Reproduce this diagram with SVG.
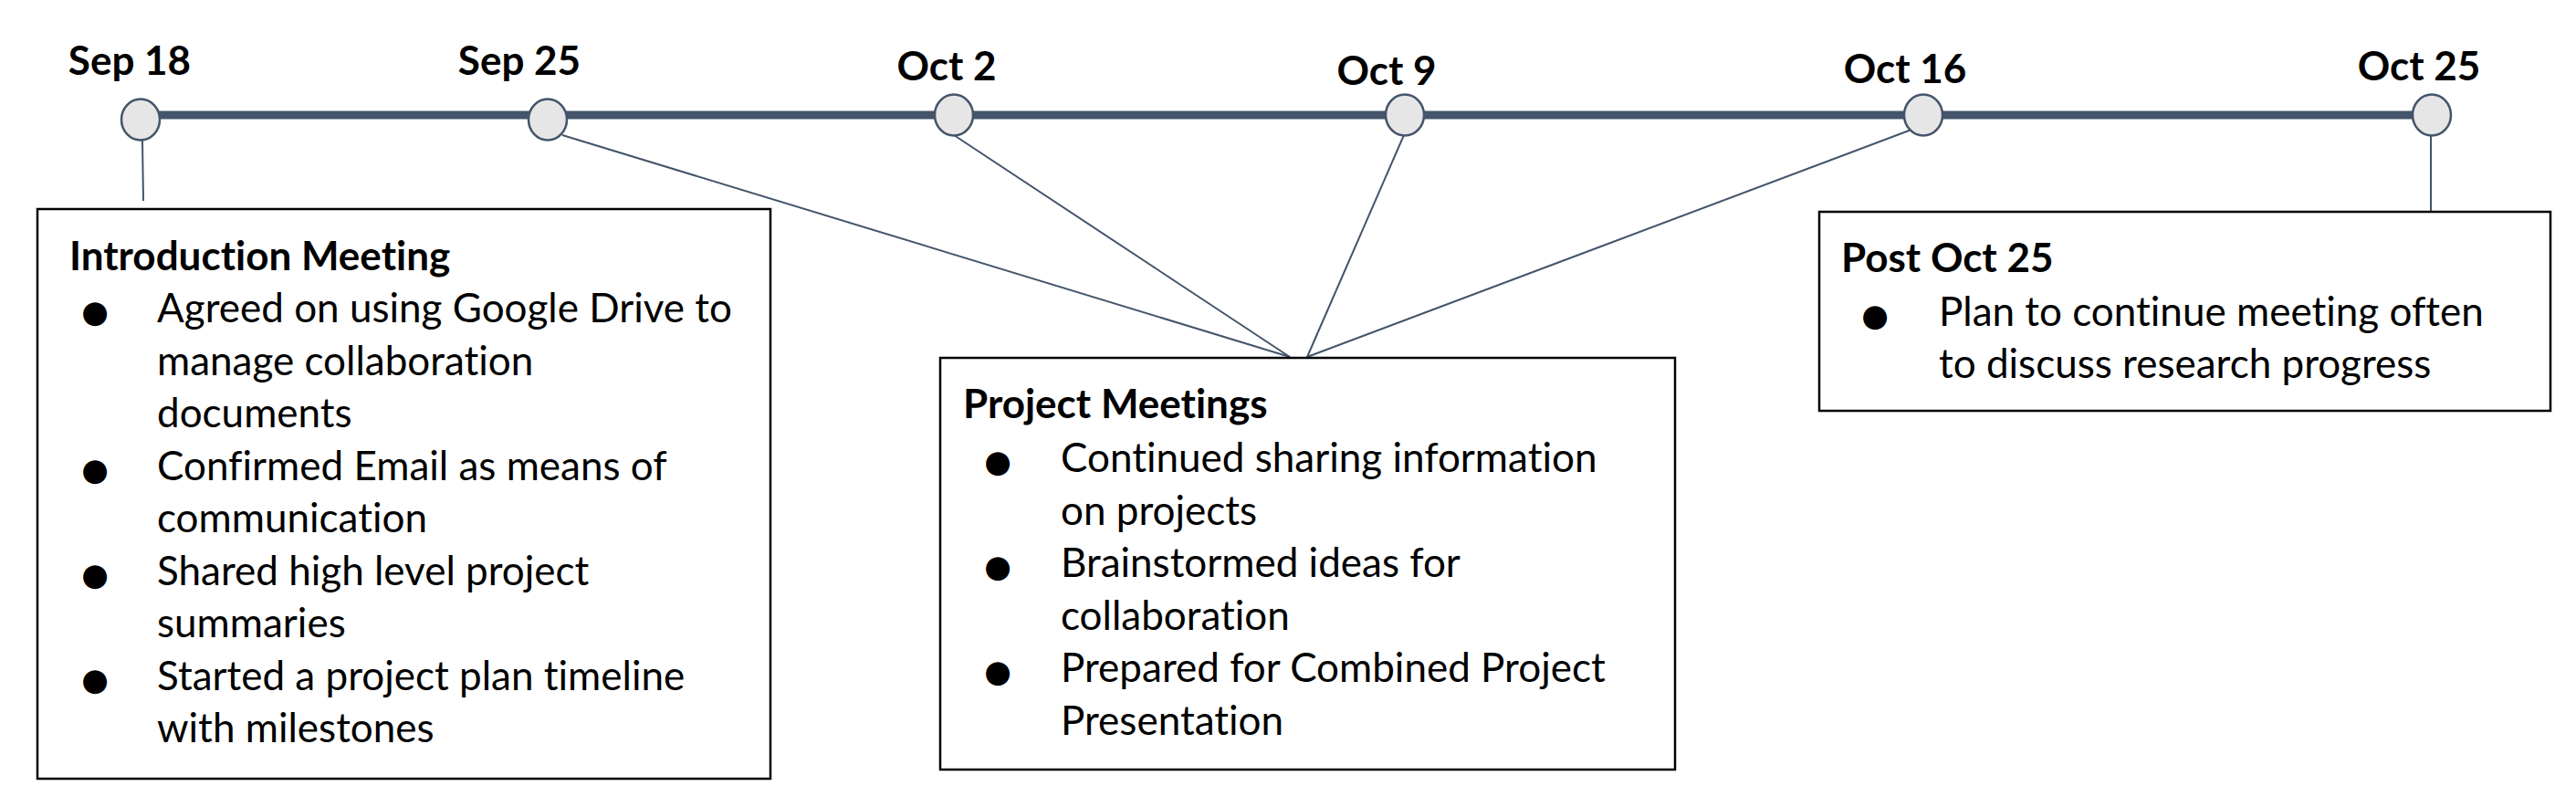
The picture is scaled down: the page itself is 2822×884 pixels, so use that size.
<svg xmlns="http://www.w3.org/2000/svg" width="2822" height="884" viewBox="0 0 2822 884">
<style>
text{font-variant-ligatures:none;font-feature-settings:"liga" 0,"clig" 0}
.date{font-family:Lato,"Open Sans",sans-serif;font-weight:700;font-size:44px;fill:#000;text-anchor:middle}
.ttl{font-family:Lato,"Open Sans",sans-serif;font-weight:700;font-size:44px;fill:#000}
.txt{font-family:Lato,"Open Sans",sans-serif;font-size:44px;fill:#000}
.bul{font-family:"DejaVu Sans",sans-serif;font-size:34px;fill:#000;text-anchor:middle}
.box{fill:#fff;stroke:#000;stroke-width:2.5}
.dot{fill:#e6e6e6;stroke:#44546a;stroke-width:2.5}
.con{stroke:#44546a;stroke-width:2;fill:none}
</style>
<rect width="2822" height="884" fill="#fff"/>
<g id="connectors">
<line class="con" x1="156" y1="154" x2="157" y2="220"/>
<line class="con" x1="616" y1="148" x2="1413" y2="391"/>
<line class="con" x1="1045" y1="148" x2="1413" y2="391"/>
<line class="con" x1="1538" y1="148" x2="1432" y2="391"/>
<line class="con" x1="2094" y1="142" x2="1432" y2="391"/>
<line class="con" x1="2663" y1="148" x2="2663" y2="232"/>
</g>
<g id="timeline">
<line x1="154" y1="126" x2="2664" y2="126" stroke="#44546a" stroke-width="9"/>
</g>
<g id="sep18"><ellipse class="dot" cx="154" cy="131" rx="21" ry="22.5"/><text class="date" x="142" y="82">Sep 18</text></g>
<g id="sep25"><ellipse class="dot" cx="600" cy="131" rx="21" ry="22.5"/><text class="date" x="569" y="82">Sep 25</text></g>
<g id="oct2"><ellipse class="dot" cx="1045" cy="126" rx="21" ry="22.5"/><text class="date" x="1037" y="88">Oct 2</text></g>
<g id="oct9"><ellipse class="dot" cx="1539" cy="126" rx="21" ry="22.5"/><text class="date" x="1519" y="93">Oct 9</text></g>
<g id="oct16"><ellipse class="dot" cx="2107" cy="126" rx="21" ry="22.5"/><text class="date" x="2087" y="91">Oct 16</text></g>
<g id="oct25"><ellipse class="dot" cx="2664" cy="126" rx="21" ry="22.5"/><text class="date" x="2650" y="88">Oct 25</text></g>
<g id="intro">
<rect class="box" x="41" y="229" width="803" height="624"/>
<text class="ttl" x="76" y="296">Introduction Meeting</text>
<text class="bul" x="104" y="353">●</text>
<text class="bul" x="104" y="525.5">●</text>
<text class="bul" x="104" y="640.5">●</text>
<text class="bul" x="104" y="755.5">●</text>
<text class="txt" x="172" y="353">Agreed on using Google Drive to</text>
<text class="txt" x="172" y="410.5">manage collaboration</text>
<text class="txt" x="172" y="468">documents</text>
<text class="txt" x="172" y="525.5">Confirmed Email as means of</text>
<text class="txt" x="172" y="583">communication</text>
<text class="txt" x="172" y="640.5">Shared high level project</text>
<text class="txt" x="172" y="698">summaries</text>
<text class="txt" x="172" y="755.5">Started a project plan timeline</text>
<text class="txt" x="172" y="813">with milestones</text>
</g>
<g id="project">
<rect class="box" x="1030" y="392" width="805" height="451"/>
<text class="ttl" x="1055" y="458">Project Meetings</text>
<text class="bul" x="1093" y="517">●</text>
<text class="bul" x="1093" y="632">●</text>
<text class="bul" x="1093" y="747">●</text>
<text class="txt" x="1162" y="517">Continued sharing information</text>
<text class="txt" x="1162" y="574.5">on projects</text>
<text class="txt" x="1162" y="632">Brainstormed ideas for</text>
<text class="txt" x="1162" y="689.5">collaboration</text>
<text class="txt" x="1162" y="747">Prepared for Combined Project</text>
<text class="txt" x="1162" y="804.5">Presentation</text>
</g>
<g id="post">
<rect class="box" x="1993" y="232" width="801" height="218"/>
<text class="ttl" x="2017" y="298">Post Oct 25</text>
<text class="bul" x="2054" y="357">●</text>
<text class="txt" x="2124" y="357">Plan to continue meeting often</text>
<text class="txt" x="2124" y="414">to discuss research progress</text>
</g>
</svg>
